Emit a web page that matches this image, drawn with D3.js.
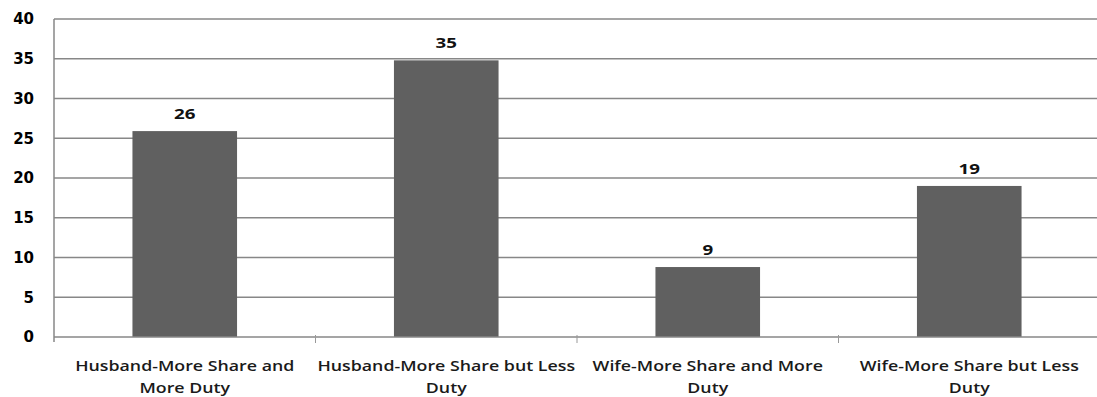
<!DOCTYPE html>
<html><head><meta charset="utf-8">
<script src="https://cdn.jsdelivr.net/npm/d3@7"></script>
<style>html,body{margin:0;padding:0;background:#fff;overflow:hidden}</style>
</head><body>
<svg id="chart" width="1097" height="397"></svg>
<script>
const categories = [
  ["Husband-More Share and", "More Duty"],
  ["Husband-More Share but Less", "Duty"],
  ["Wife-More Share and More", "Duty"],
  ["Wife-More Share but Less", "Duty"]
];
const values = [25.9, 34.8, 8.8, 19];
const yTicks = [0, 5, 10, 15, 20, 25, 30, 35, 40];

const svg = d3.select("#chart");
const mLeft = 54, mRight = 1100, mTop = 19, mBottom = 337;
const keys = categories.map((c, i) => i);
const x = d3.scaleBand().domain(keys).range([mLeft, mRight]).paddingInner(0.6).paddingOuter(0.3);
const xb = d3.scaleBand().domain(keys).range([mLeft, mRight]).padding(0);
const y = d3.scaleLinear().domain([0, 40]).range([mBottom, mTop]);

// gridlines
svg.append("g").selectAll("line").data(yTicks.filter(t => t > 0)).join("line")
  .attr("x1", mLeft).attr("x2", 1097).attr("y1", d => y(d)).attr("y2", d => y(d))
  .attr("stroke", "#878787").attr("stroke-width", 1.5);

// bars
svg.append("g").selectAll("rect").data(values).join("rect")
  .attr("x", (d, i) => x(i)).attr("width", x.bandwidth())
  .attr("y", d => y(d)).attr("height", d => mBottom - y(d))
  .attr("fill", "#606060");

// x axis line + ticks
svg.append("line").attr("x1", mLeft).attr("x2", 1097).attr("y1", mBottom).attr("y2", mBottom)
  .attr("stroke", "#878787").attr("stroke-width", 1.5);
svg.append("g").selectAll("line").data(keys.slice(1)).join("line")
  .attr("x1", d => xb(d)).attr("x2", d => xb(d)).attr("y1", mBottom - 2).attr("y2", mBottom + 6)
  .attr("stroke", "#999").attr("stroke-width", 1);

// y axis
const yAxis = d3.axisLeft(y).tickValues(yTicks).tickSize(0).tickSizeOuter(0).tickPadding(20);
const yg = svg.append("g").attr("transform", `translate(${mLeft},0)`).call(yAxis);
yg.select(".domain").remove();
yg.append("line").attr("x1", 0).attr("x2", 0).attr("y1", mTop).attr("y2", mBottom + 5)
  .attr("stroke", "#878787").attr("stroke-width", 1.5);
yg.selectAll(".tick text").attr("font-family", "DejaVu Sans, sans-serif")
  .attr("font-weight", "bold").attr("font-size", 15).attr("fill", "#000");

// value labels
svg.append("g").selectAll("text").data(values).join("text")
  .attr("transform", (d, i) => `translate(${x(i) + x.bandwidth() / 2},${y(d) - 12}) scale(1.25,1)`)
  .attr("text-anchor", "middle").attr("font-family", "Open Sans, sans-serif")
  .attr("font-weight", "bold").attr("font-size", 15).attr("fill", "#111")
  .text(d => d3.format(".0f")(d));

// category labels
const cl = svg.append("g").selectAll("text").data(categories).join("text")
  .attr("transform", (d, i) => `translate(${xb(i) + xb.bandwidth() / 2},0) scale(1.27,1)`)
  .attr("text-anchor", "middle").attr("font-family", "Open Sans, sans-serif")
  .attr("font-weight", "600").attr("font-size", 14).attr("fill", "#1a1a1a");
cl.each(function(d) {
  const t = d3.select(this);
  d.forEach((line, j) => {
    t.append("tspan").attr("x", 0).attr("y", 371 + j * 22).text(line);
  });
});
</script>
</body></html>
